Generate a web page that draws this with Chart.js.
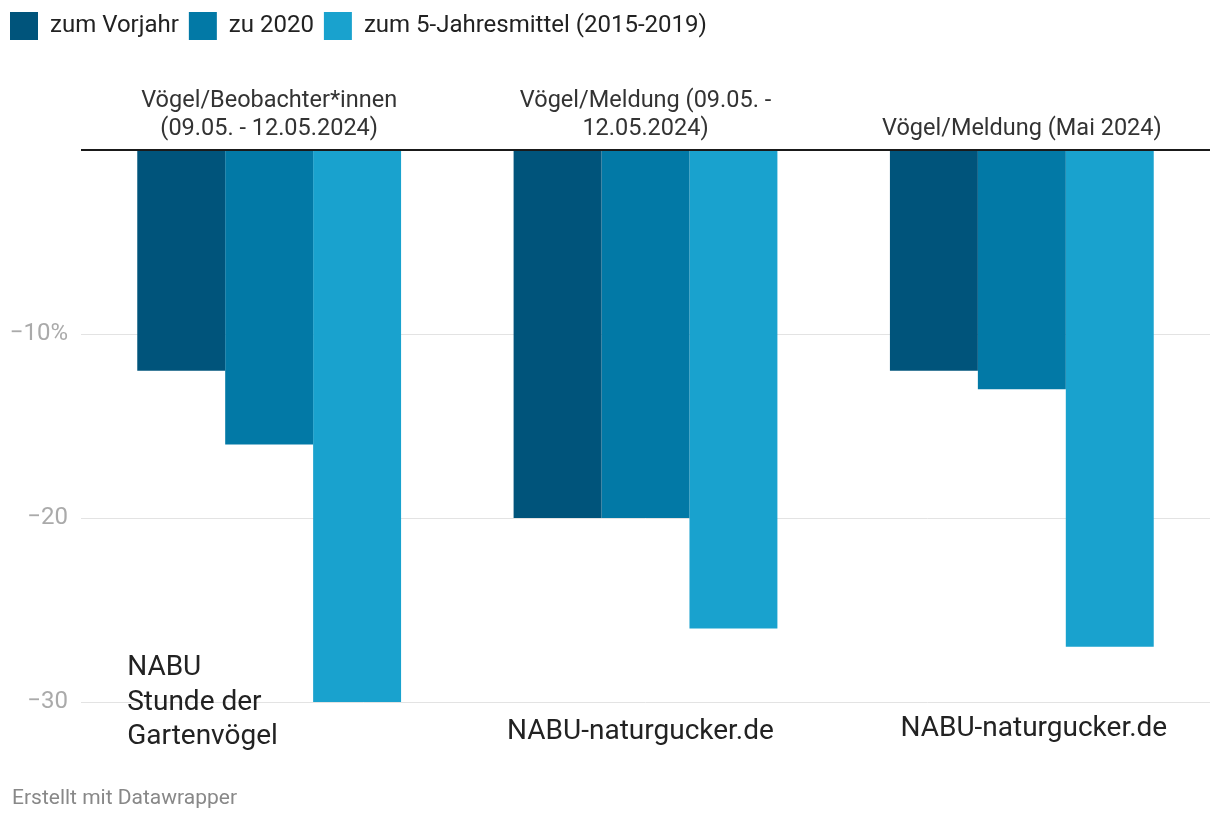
<!DOCTYPE html>
<html>
<head>
<meta charset="utf-8">
<script src="https://cdn.jsdelivr.net/npm/chart.js@4"></script>
<style>
  html, body { margin: 0; padding: 0; background: #fff; }
  #wrap { width: 1220px; height: 824px; }
</style>
</head>
<body>
<div id="wrap"><canvas id="chart"></canvas></div>
<script>
// categories (top labels) and series
const categories = [
  ['Vögel/Beobachter*innen', '(09.05. - 12.05.2024)'],
  ['Vögel/Meldung (09.05. -', '12.05.2024)'],
  ['Vögel/Meldung (Mai 2024)']
];
const seriesNames = ['zum Vorjahr', 'zu 2020', 'zum 5-Jahresmittel (2015-2019)'];
const vorjahr = [-12, -20, -12];
const zu2020 = [-16, -20, -13];
const mittel = [-30, -26, -27];
const sources = [['NABU', 'Stunde der', 'Gartenvögel'], ['NABU-naturgucker.de'], ['NABU-naturgucker.de']];
const yTicks = [0, -10, -20, -30];
const footer = 'Erstellt mit Datawrapper';

const colors = ['#00547b', '#0279a6', '#19a2ce'];

// draws the source notes and the footer
const notesPlugin = {
  id: 'notes',
  afterDraw(chart) {
    const ctx = chart.ctx;
    const x = chart.scales.x;
    ctx.save();
    ctx.fillStyle = '#222';
    ctx.font = '28px Roboto';
    ctx.textBaseline = 'middle';
    // first note is left aligned, multi line
    ctx.textAlign = 'left';
    sources[0].forEach((line, i) => {
      ctx.fillText(line, x.getPixelForValue(0) - 142, 668 + i * 34.5);
    });
    ctx.textAlign = 'center';
    ctx.fillText(sources[1][0], x.getPixelForValue(1) - 5, 732);
    ctx.fillText(sources[2][0], x.getPixelForValue(2) + 12, 729);

    ctx.fillStyle = '#888';
    ctx.font = '21px Roboto';
    ctx.textAlign = 'left';
    ctx.fillText(footer, 12, 799);
    ctx.restore();
  }
};

const ctx = document.getElementById('chart');
new Chart(ctx, {
  type: 'bar',
  data: {
    labels: categories,
    datasets: [
      { label: seriesNames[0], data: vorjahr, backgroundColor: colors[0] },
      { label: seriesNames[1], data: zu2020, backgroundColor: colors[1] },
      { label: seriesNames[2], data: mittel, backgroundColor: colors[2] }
    ]
  },
  options: {
    responsive: true,
    maintainAspectRatio: false,
    animation: false,
    layout: { padding: { left: 0, right: 10, top: 2, bottom: 122 } },
    datasets: {
      bar: { categoryPercentage: 0.701, barPercentage: 1.0, borderWidth: 0 }
    },
    plugins: {
      legend: {
        position: 'top',
        align: 'start',
        labels: {
          boxWidth: 28,
          boxHeight: 28,
          padding: 10,
          color: '#222',
          font: { family: 'Roboto', size: 24 }
        },
        onClick: null
      },
      tooltip: { enabled: false }
    },
    scales: {
      x: {
        position: 'top',
        grid: { display: false, drawTicks: false },
        border: { display: false },
        ticks: {
          color: '#333',
          padding: 7,
          maxRotation: 0,
          autoSkip: false,
          font: { family: 'Roboto', size: 23.5, lineHeight: 1.2 }
        },
        afterFit(scale) { scale.height = 100; }
      },
      y: {
        min: -30,
        max: 0,
        afterBuildTicks(scale) {
          scale.ticks = yTicks.map(v => ({ value: v }));
        },
        grid: {
          drawTicks: false,
          color: c => (c.tick && c.tick.value === 0) ? '#1a1a1a' : '#e3e3e3',
          lineWidth: c => (c.tick && c.tick.value === 0) ? 2 : 1
        },
        border: { display: false },
        ticks: {
          color: '#aaa',
          padding: 13,
          font: { family: 'Roboto', size: 24 },
          callback: v => v === 0 ? '' : (v === -10 ? '\u221210%' : '\u2212' + Math.abs(v))
        },
        afterFit(scale) { scale.width = 81; }
      }
    }
  },
  plugins: [notesPlugin]
});
</script>
</body>
</html>
